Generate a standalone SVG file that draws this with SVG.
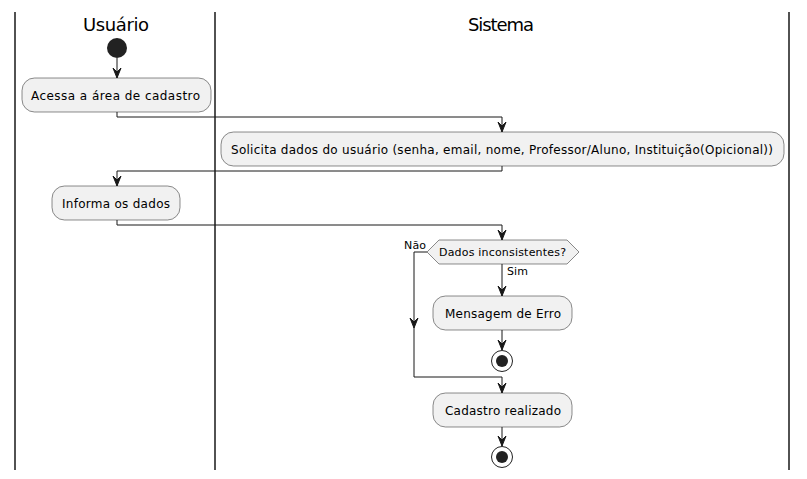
<svg xmlns="http://www.w3.org/2000/svg" width="807" height="479" viewBox="0 0 807 479">
<defs>
<style>
.lane{stroke:#181818;stroke-width:1.5;fill:none}
.title{font-family:"DejaVu Sans",sans-serif;font-size:18px;fill:#000}
.box{fill:#F1F1F1;stroke:#181818;stroke-width:0.5}
.t{font-family:"DejaVu Sans",sans-serif;font-size:12px;fill:#000}
.s{font-family:"DejaVu Sans",sans-serif;font-size:11px;fill:#000}
.c{stroke:#181818;stroke-width:1;fill:none}
.ah{fill:#181818;stroke:#181818;stroke-width:1}
</style>
</defs>
<rect width="807" height="479" fill="#FFFFFF"/>
<g id="lanes">
<line class="lane" x1="15" y1="12" x2="15" y2="470"/>
<line class="lane" x1="215" y1="12" x2="215" y2="470"/>
<line class="lane" x1="789" y1="12" x2="789" y2="470"/>
<text class="title" x="83" y="31" textLength="66">Usuário</text>
<text class="title" x="468" y="31" textLength="66">Sistema</text>
</g>
<g id="connectors">
<path class="c" d="M117,58 V78"/>
<polygon class="ah" points="113,68 117,78 121,68 117,72"/>
<path class="c" d="M117,112 V117 H502 V132"/>
<polygon class="ah" points="498,122 502,132 506,122 502,126"/>
<path class="c" d="M502,166 V171 H117 V186"/>
<polygon class="ah" points="113,176 117,186 121,176 117,180"/>
<path class="c" d="M117,220 V225 H502 V240"/>
<polygon class="ah" points="498,230 502,240 506,230 502,234"/>
<path class="c" d="M502,264 V296"/>
<polygon class="ah" points="498,286 502,296 506,286 502,290"/>
<path class="c" d="M502,330 V350"/>
<polygon class="ah" points="498,340 502,350 506,340 502,344"/>
<path class="c" d="M427,252 H414 V377 H502 V393"/>
<polygon class="ah" points="410,318 414,328 418,318 414,322"/>
<polygon class="ah" points="498,383 502,393 506,383 502,387"/>
<path class="c" d="M502,427 V446"/>
<polygon class="ah" points="498,436 502,446 506,436 502,440"/>
<text class="s" x="404" y="249" textLength="22">Não</text>
<text class="s" x="507" y="275" textLength="21">Sim</text>
</g>
<g id="start"><circle cx="117" cy="48" r="10" fill="#222222"/></g>
<g id="acessa"><rect class="box" x="22" y="78" width="189" height="34" rx="12.5"/><text class="t" x="31" y="99.5" textLength="169">Acessa a área de cadastro</text></g>
<g id="solicita"><rect class="box" x="221" y="132" width="563" height="34" rx="12.5"/><text class="t" x="231" y="153.5" textLength="542">Solicita dados do usuário (senha, email, nome, Professor/Aluno, Instituição(Opicional))</text></g>
<g id="informa"><rect class="box" x="52" y="186" width="128" height="34" rx="12.5"/><text class="t" x="62" y="207.5" textLength="108">Informa os dados</text></g>
<g id="decisao"><polygon class="box" points="427,252 439,240 567,240 579,252 567,264 439,264"/><text class="s" x="439" y="256" textLength="127">Dados inconsistentes?</text></g>
<g id="erro"><rect class="box" x="433" y="296" width="139" height="34" rx="12.5"/><text class="t" x="445" y="317.5" textLength="116">Mensagem de Erro</text></g>
<g id="stop1"><circle cx="502" cy="361" r="10.5" fill="none" stroke="#222222" stroke-width="1"/><circle cx="502" cy="361" r="6" fill="#222222"/></g>
<g id="cadastro"><rect class="box" x="433" y="393" width="139" height="34" rx="12.5"/><text class="t" x="445" y="414.5" textLength="116">Cadastro realizado</text></g>
<g id="stop2"><circle cx="502" cy="457" r="10.5" fill="none" stroke="#222222" stroke-width="1"/><circle cx="502" cy="457" r="6" fill="#222222"/></g>
</svg>
